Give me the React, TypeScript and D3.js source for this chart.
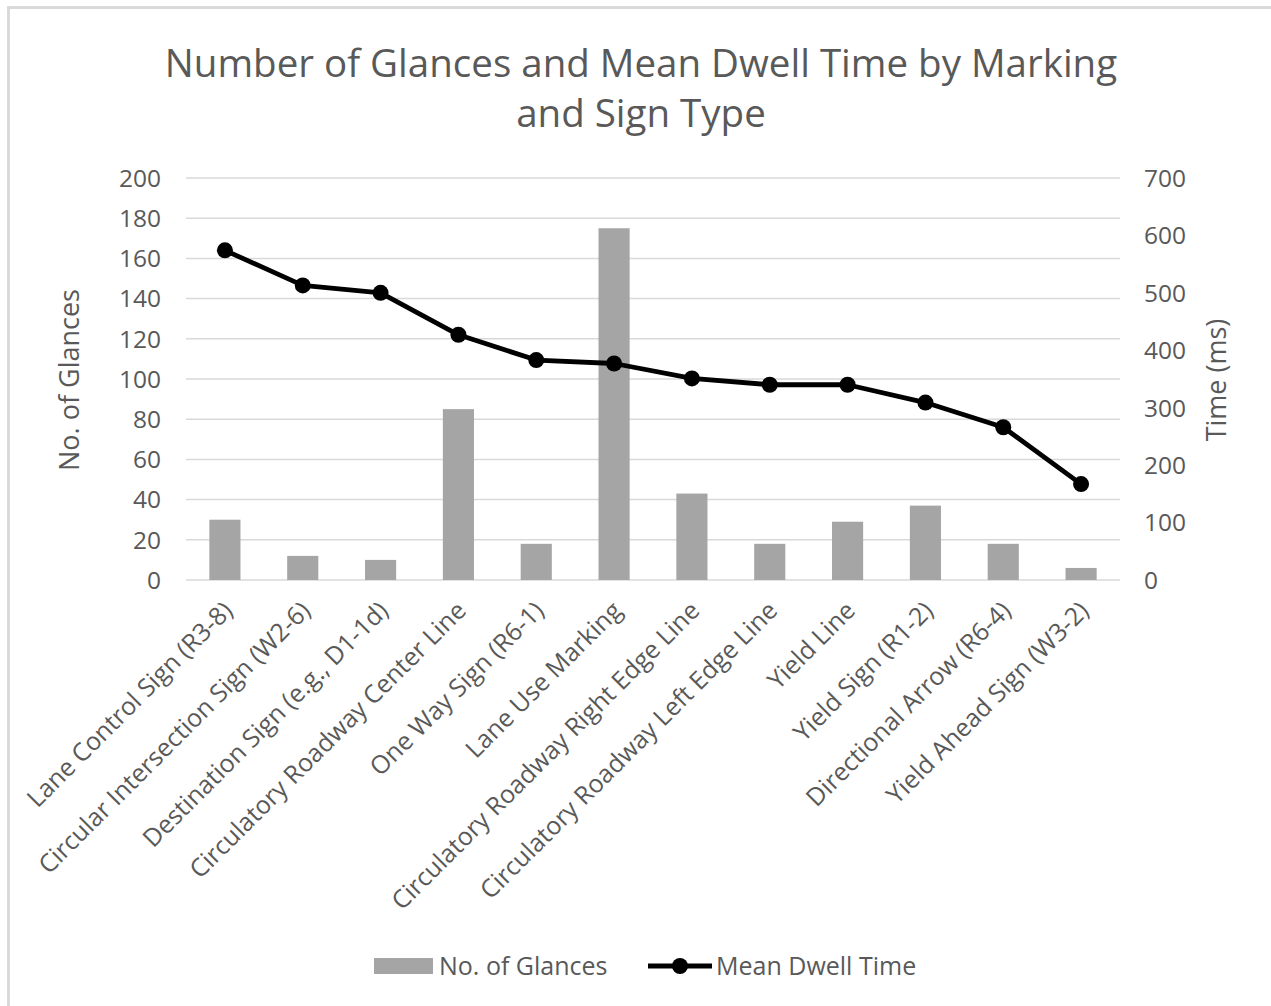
import React from "react";
import * as d3 from "d3";

const categories = [
  "Lane Control Sign (R3-8)",
  "Circular Intersection Sign (W2-6)",
  "Destination Sign (e.g., D1-1d)",
  "Circulatory Roadway Center Line",
  "One Way Sign (R6-1)",
  "Lane Use Marking",
  "Circulatory Roadway Right Edge Line",
  "Circulatory Roadway Left Edge Line",
  "Yield Line",
  "Yield Sign (R1-2)",
  "Directional Arrow (R6-4)",
  "Yield Ahead Sign (W3-2)",
];
const glances = [30, 12, 10, 85, 18, 175, 43, 18, 29, 37, 18, 6];
const dwellTime = [574, 513, 500, 427, 383, 377, 351, 340, 340, 309, 266, 167];
const leftTicks = [0, 20, 40, 60, 80, 100, 120, 140, 160, 180, 200];
const rightTicks = [0, 100, 200, 300, 400, 500, 600, 700];

const W = 1271;
const H = 1006;
const FONT = "'Open Sans', 'Noto Sans', sans-serif";
const TEXT = "#595959";

export default function App() {
  const left = 186, right = 1120, top = 178, bottom = 580;
  const x = d3.scaleBand<string>().domain(categories).range([left, right]).paddingInner(0.6).paddingOuter(0.3);
  const xc = (c: string) => (x(c) as number) + x.bandwidth() / 2;
  const yL = d3.scaleLinear().domain([0, 200]).range([bottom, top]);
  const yR = d3.scaleLinear().domain([0, 700]).range([bottom, top]);
  const line = d3.line<number>().x((_, i) => xc(categories[i])).y((d) => yR(d));

  return (
    <svg width={W} height={H} style={{ position: "absolute", left: 0, top: 0, background: "#fff" }} fontFamily={FONT}>
      <rect x={8.5} y={7.5} width={W + 20} height={H + 20} fill="#fff" stroke="#d9d9d9" strokeWidth={3} />
      <text x={641} y={77} textAnchor="middle" fontSize={38.5} fill={TEXT}>
        Number of Glances and Mean Dwell Time by Marking
      </text>
      <text x={641} y={127} textAnchor="middle" fontSize={38.5} fill={TEXT}>
        and Sign Type
      </text>
      {leftTicks.map((t) => (
        <g key={"l" + t}>
          <line x1={left} x2={right} y1={yL(t)} y2={yL(t)} stroke="#d9d9d9" strokeWidth={1.5} />
          <text x={161} y={yL(t)} dy="0.36em" textAnchor="end" fontSize={24.5} fill={TEXT}>{t}</text>
        </g>
      ))}
      {rightTicks.map((t) => (
        <text key={"r" + t} x={1144} y={yR(t)} dy="0.36em" textAnchor="start" fontSize={24.5} fill={TEXT}>{t}</text>
      ))}
      <text transform={`translate(79,380) rotate(-90)`} textAnchor="middle" fontSize={27} fill={TEXT}>No. of Glances</text>
      <text transform={`translate(1226,380) rotate(-90)`} textAnchor="middle" fontSize={27} fill={TEXT}>Time (ms)</text>
      {categories.map((c, i) => (
        <rect key={c} x={x(c)} y={yL(glances[i])} width={x.bandwidth()} height={bottom - yL(glances[i])} fill="#a5a5a5" />
      ))}
      <path d={line(dwellTime) || ""} fill="none" stroke="#000" strokeWidth={4.8} strokeLinejoin="round" />
      {dwellTime.map((v, i) => (
        <circle key={i} cx={xc(categories[i])} cy={yR(v)} r={8} fill="#000" />
      ))}
      {categories.map((c) => (
        <text key={"x" + c} transform={`translate(${xc(c) + 3},${606}) rotate(-45)`} textAnchor="end" dy="0.35em" fontSize={25} fill={TEXT}>
          {c}
        </text>
      ))}
      <rect x={374} y={958} width={59} height={16} fill="#a5a5a5" />
      <text x={439} y={975} fontSize={25} fill={TEXT}>No. of Glances</text>
      <line x1={648} x2={712} y1={966} y2={966} stroke="#000" strokeWidth={4.8} />
      <circle cx={680} cy={966} r={8} fill="#000" />
      <text x={716} y={975} fontSize={25} fill={TEXT}>Mean Dwell Time</text>
    </svg>
  );
}
